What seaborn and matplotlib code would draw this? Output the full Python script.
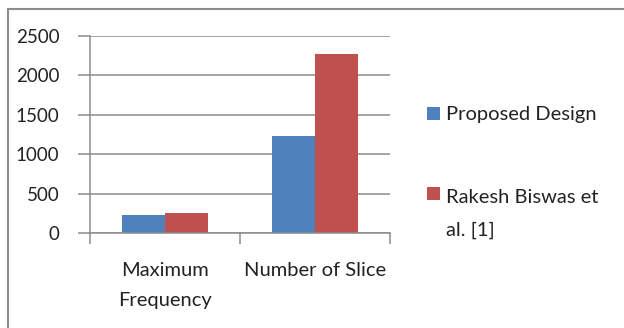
import matplotlib
matplotlib.use("Agg")
import matplotlib.pyplot as plt
import seaborn as sns
import pandas as pd
from matplotlib.patches import Rectangle

categories = ["Maximum\nFrequency", "Number of Slice"]
series = ["Proposed Design", "Rakesh Biswas et\nal. [1]"]
proposed = [233, 1228]
rakesh = [258, 2275]
yticks = [0, 500, 1000, 1500, 2000, 2500]
colors = ["#4F81BD", "#C0504D"]

df = pd.DataFrame({
    "category": categories * 2,
    "series": [series[0]] * 2 + [series[1]] * 2,
    "value": proposed + rakesh,
})

sns.set_theme(style="white")
plt.rcParams["font.family"] = ["Lato", "DejaVu Sans"]
FS = 14.5
FS_Y = 13.5
TXT = "#222222"
grid_c = "#8C8C8C"

fig = plt.figure(figsize=(6.24, 3.28), dpi=100)
ax = fig.add_axes([90 / 624, 1 - 233 / 328, 300 / 624, 197 / 328])

sns.barplot(data=df, x="category", y="value", hue="series",
            palette=colors, width=0.573, gap=0, saturation=1,
            edgecolor="none", linewidth=0, ax=ax, legend=False)

ax.set_xlim(-0.5, 1.5)
ax.set_ylim(0, 2500)
ax.set_yticks(yticks)
ax.set_yticklabels([str(t) for t in yticks], fontsize=FS_Y, color=TXT)
ax.set_xlabel("")
ax.set_ylabel("")

# horizontal gridlines behind bars
ax.set_axisbelow(True)
ax.yaxis.grid(True, color=grid_c, linewidth=1.1)
ax.xaxis.grid(False)

for s in ["top", "right"]:
    ax.spines[s].set_visible(False)
for s in ["left", "bottom"]:
    ax.spines[s].set_visible(True)
    ax.spines[s].set_color(grid_c)
    ax.spines[s].set_linewidth(1.1)

ax.tick_params(axis="y", which="major", left=True, length=9, width=1.1,
               color=grid_c, pad=13)

# category labels centered, ticks at category boundaries
ax.set_xticks([0, 1])
ax.set_xticklabels(categories, fontsize=FS, color=TXT, linespacing=1.95)
ax.tick_params(axis="x", which="major", length=0, pad=21)
ax.set_xticks([-0.5, 0.5, 1.5], minor=True)
ax.tick_params(axis="x", which="minor", bottom=True, length=8, width=1.1,
               color=grid_c)

# legend: colour swatches with their series names
for i, (lab, c) in enumerate(zip(series, colors)):
    y0 = [107, 187][i]
    fig.patches.append(Rectangle((427 / 624, 1 - (y0 + 13) / 328), 13 / 624, 13 / 328,
                                 transform=fig.transFigure, facecolor=c,
                                 edgecolor="none"))
    fig.text(446 / 624, 1 - ([106, 189][i]) / 328, lab, fontsize=FS, color=TXT,
             ha="left", va="top", linespacing=2.1)

# outer chart frame
fig.patches.append(Rectangle((8 / 624, -0.1), 1.2, 1 - 9 / 328 + 0.1,
                             transform=fig.transFigure, facecolor="none",
                             edgecolor="#8C8C8C", linewidth=1.5))

fig.savefig("out.png", dpi=100)
